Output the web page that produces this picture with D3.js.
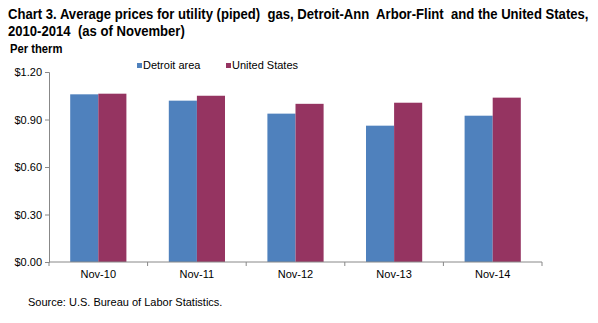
<!DOCTYPE html>
<html>
<head>
<meta charset="utf-8">
<script src="https://cdn.jsdelivr.net/npm/d3@7"></script>
<style>
  body { margin: 0; background: #fff; }
  svg { display: block; }
</style>
</head>
<body>
<div id="chart"></div>
<script>
// chart data
const categories = ["Nov-10", "Nov-11", "Nov-12", "Nov-13", "Nov-14"];
const seriesNames = ["Detroit area", "United States"];
const detroit = [1.059, 1.019, 0.937, 0.861, 0.924];
const unitedStates = [1.063, 1.050, 0.999, 1.006, 1.038];
const yTicks = [0, 0.30, 0.60, 0.90, 1.20];
const titleLines = [
    "Chart 3. Average prices for utility (piped)  gas, Detroit-Ann  Arbor-Flint  and the United States,",
    "2010-2014  (as of November)"
];

const colors = ["#4f81bd", "#953461"];
const W = 598, H = 323;
const plot = {left: 49, right: 542, top: 72, bottom: 262};

const svg = d3.select("#chart").append("svg")
    .attr("width", W)
    .attr("height", H)
    .attr("font-family", "Arial, 'Liberation Sans', sans-serif");

// title: bold, squeezed horizontally to look like the narrow font of the original
const titleG = svg.append("g");
const title = titleG.append("text")
    .attr("font-family", "'Liberation Sans', Arial, sans-serif")
    .attr("font-weight", "bold")
    .attr("font-size", 14)
    .attr("xml:space", "preserve")
    .attr("fill", "#000");
title.selectAll("tspan")
    .data(titleLines).enter().append("tspan")
    .attr("x", 0)
    .attr("y", (d, i) => i * 17)
    .text(d => d);
const natural = title.select("tspan").node().getComputedTextLength();
const sx = 581 / natural;
titleG.attr("transform", "translate(8,19) scale(" + sx + ",1)");

svg.append("text")
    .attr("font-family", "'Liberation Sans', Arial, sans-serif")
    .attr("font-weight", "bold")
    .attr("font-size", 12)
    .attr("transform", "translate(10,53) scale(" + sx + ",1)")
    .text("Per therm");

// scales
const x = d3.scaleBand().domain(categories).range([plot.left, plot.right]).paddingInner(0.43).paddingOuter(0.215);
const xs = d3.scaleBand().domain(seriesNames).range([0, x.bandwidth()]);
const y = d3.scaleLinear().domain([0, 1.2]).range([plot.bottom, plot.top]);

// bars
const data = categories.map((c, i) => ({cat: c, vals: [detroit[i], unitedStates[i]]}));
const groups = svg.append("g").selectAll("g")
    .data(data).enter().append("g")
    .attr("transform", d => "translate(" + x(d.cat) + ",0)");
groups.selectAll("rect")
    .data(d => d.vals.map((v, j) => ({name: seriesNames[j], v: v, j: j})))
    .enter().append("rect")
    .attr("x", d => xs(d.name))
    .attr("width", xs.bandwidth())
    .attr("y", d => y(d.v))
    .attr("height", d => plot.bottom - y(d.v))
    .attr("fill", d => colors[d.j]);

// y axis
const yAxis = svg.append("g")
    .attr("transform", "translate(" + plot.left + ",0)")
    .call(d3.axisLeft(y).tickValues(yTicks).tickFormat(d => "$" + d.toFixed(2)).tickSize(4).tickPadding(3));
yAxis.selectAll("path, line").attr("stroke", "#888");
yAxis.selectAll("text").attr("font-size", 11).attr("fill", "#000")
    .attr("font-family", "Arial, 'Liberation Sans', sans-serif");

// x axis: ticks between categories
const step = (plot.right - plot.left) / categories.length;
const xAxis = svg.append("g")
    .attr("transform", "translate(0," + plot.bottom + ")");
xAxis.append("line")
    .attr("x1", plot.left).attr("x2", plot.right)
    .attr("stroke", "#888");
xAxis.selectAll("line.tick")
    .data(d3.range(categories.length + 1))
    .enter().append("line")
    .attr("class", "tick")
    .attr("x1", i => plot.left + i * step).attr("x2", i => plot.left + i * step)
    .attr("y1", 0).attr("y2", 4)
    .attr("stroke", "#888");
xAxis.selectAll("text")
    .data(categories)
    .enter().append("text")
    .attr("x", d => x(d) + x.bandwidth() / 2)
    .attr("y", 16)
    .attr("text-anchor", "middle")
    .attr("font-size", 11)
    .text(d => d);

// legend
const legendX = [137, 226];
const legend = svg.append("g").selectAll("g")
    .data(seriesNames).enter().append("g")
    .attr("transform", (d, i) => "translate(" + legendX[i] + ",63)");
legend.append("rect")
    .attr("width", 5).attr("height", 5)
    .attr("fill", (d, i) => colors[i]);
legend.append("text")
    .attr("x", 6).attr("y", 6)
    .attr("font-size", 11)
    .text(d => d);

// source
svg.append("text")
    .attr("x", 28).attr("y", 306)
    .attr("font-size", 11)
    .text("Source: U.S. Bureau of Labor Statistics.");
</script>
</body>
</html>
